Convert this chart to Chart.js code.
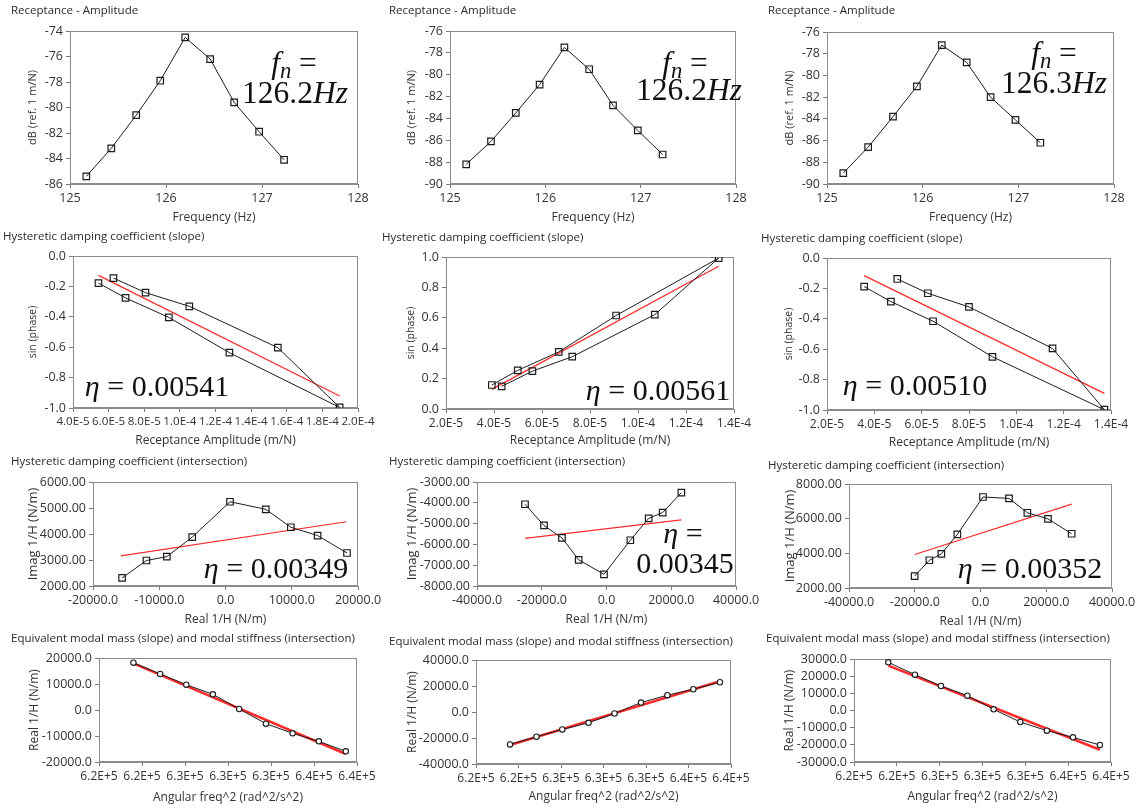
<!DOCTYPE html>
<html>
<head>
<meta charset="utf-8">
<script src="https://cdn.jsdelivr.net/npm/chart.js@4.4.1/dist/chart.umd.min.js"></script>
<style>
  html, body { margin:0; padding:0; background:#fff; }
  body { width:1137px; height:809px; position:relative; overflow:hidden; font-family:'Open Sans','Noto Sans',sans-serif; }
  canvas { position:absolute; }
  .ptitle { position:absolute; font-size:11.5px; color:#2a2a2a; white-space:nowrap; line-height:1.2; transform:translateY(-50%); }
  .ann { position:absolute; font-family:'Liberation Serif','DejaVu Serif',serif; font-size:30px; color:#111; white-space:nowrap; line-height:1; transform:translate(-50%,-50%); }
  .ann.fn { font-size:31.5px; }
  .ann sub { font-size:0.72em; vertical-align:-0.22em; line-height:0; }
</style>
</head>
<body>
<script>
// ---------------- DATA ----------------
// Row 1: Receptance amplitude vs frequency
const freqHz = [125.17, 125.43, 125.69, 125.94, 126.20, 126.46, 126.71, 126.97, 127.23];
const dbA = [-85.4, -83.2, -80.6, -77.9, -74.5, -76.2, -79.6, -81.9, -84.1];
const dbB = [-88.2, -86.1, -83.5, -80.9, -77.5, -79.5, -82.8, -85.1, -87.3];
const dbC = [-89.0, -86.6, -83.8, -81.0, -77.2, -78.8, -82.0, -84.1, -86.2];
const fnLabels = ["126.2", "126.2", "126.3"];

// Row 2: sin(phase) vs receptance amplitude
const recA = [5.43e-5, 6.95e-5, 9.38e-5, 1.278e-4, 1.897e-4, 1.55e-4, 1.053e-4, 8.07e-5, 6.27e-5];
const sinA = [-0.178, -0.276, -0.404, -0.636, -0.996, -0.603, -0.331, -0.241, -0.145];
const fitRecA = [5.43e-5, 1.897e-4];
const fitSinA = [-0.127, -0.921];
const recB = [4.32e-5, 5.60e-5, 7.26e-5, 1.070e-4, 1.336e-4, 9.09e-5, 6.70e-5, 4.99e-5, 3.91e-5];
const sinB = [0.149, 0.249, 0.344, 0.621, 0.993, 0.615, 0.376, 0.254, 0.158];
const fitRecB = [3.91e-5, 1.336e-4];
const fitSinB = [0.129, 0.939];
const recC = [3.57e-5, 4.70e-5, 6.48e-5, 8.99e-5, 1.372e-4, 1.153e-4, 8.00e-5, 6.26e-5, 4.97e-5];
const sinC = [-0.188, -0.287, -0.416, -0.650, -0.998, -0.595, -0.322, -0.232, -0.138];
const fitRecC = [3.57e-5, 1.372e-4];
const fitSinC = [-0.116, -0.891];
const etaSlope = ["0.00541", "0.00561", "0.00510"];

// Row 3: Imag 1/H vs Real 1/H
const reA = [-15610, -11930, -8850, -5020, 680, 6080, 9860, 13900, 18340];
const imA = [2310, 2980, 3130, 3880, 5240, 4950, 4260, 3940, 3270];
const fitReA = [-15810, 18230];
const fitImA = [3160, 4470];
const reB = [-25170, -19310, -13750, -8600, -770, 7360, 13020, 17350, 23120];
const imB = [-4070, -5090, -5690, -6740, -7440, -5800, -4750, -4470, -3510];
const fitReB = [-25170, 23120];
const fitImB = [-5710, -4820];
const reC = [-20030, -15560, -11910, -7050, 760, 8670, 14250, 20530, 27730];
const imC = [2690, 3600, 3970, 5090, 7250, 7170, 6340, 5990, 5130];
const fitReC = [-20030, 27730];
const fitImC = [3930, 6840];
const etaInter = ["0.00349", "0.00345", "0.00352"];

// Row 4: Real 1/H vs angular frequency squared
const omega2 = [620200, 622690, 625120, 627590, 630040, 632530, 635010, 637450, 639960];
const realA = [18200, 13850, 9740, 6030, 390, -5260, -8970, -12050, -15900];
const fitOmA = [620200, 639960];
const fitRealA = [17950, -16920];
const realB = [-24920, -19040, -13420, -8310, -1150, 7280, 12910, 17510, 22880];
const fitOmB = [620200, 639960];
const fitRealB = [-25430, 23640];
const realC = [28060, 20870, 14270, 8640, 680, -6700, -11750, -15630, -20100];
const fitOmC = [620200, 639960];
const fitRealC = [26120, -22820];

// Tick values
const ticksFreq = [125, 126, 127, 128];
const ticksDbA = [-86, -84, -82, -80, -78, -76, -74];
const ticksDbBC = [-90, -88, -86, -84, -82, -80, -78, -76];
const ticksRecA = [4.0e-5, 6.0e-5, 8.0e-5, 1.0e-4, 1.2e-4, 1.4e-4, 1.6e-4, 1.8e-4, 2.0e-4];
const ticksRecBC = [2.0e-5, 4.0e-5, 6.0e-5, 8.0e-5, 1.0e-4, 1.2e-4, 1.4e-4];
const ticksSinNeg = [-1.0, -0.8, -0.6, -0.4, -0.2, 0.0];
const ticksSinPos = [0.0, 0.2, 0.4, 0.6, 0.8, 1.0];
const ticksReA = [-20000, -10000, 0, 10000, 20000];
const ticksReBC = [-40000, -20000, 0, 20000, 40000];
const ticksImA = [2000, 3000, 4000, 5000, 6000];
const ticksImB = [-8000, -7000, -6000, -5000, -4000, -3000];
const ticksImC = [2000, 4000, 6000, 8000];
const ticksOmega = [617000, 621000, 625000, 629000, 633000, 637000, 641000];
const ticksRealA = [-20000, -10000, 0, 10000, 20000];
const ticksRealB = [-40000, -20000, 0, 20000, 40000];
const ticksRealC = [-30000, -20000, -10000, 0, 10000, 20000, 30000];

// Texts
const T_AMP = "Receptance - Amplitude";
const T_SLOPE = "Hysteretic damping coefficient (slope)";
const T_INTER = "Hysteretic damping coefficient (intersection)";
const T_MASS = "Equivalent modal mass (slope) and modal stiffness (intersection)";
const X_FREQ = "Frequency (Hz)", Y_DB = "dB (ref. 1 m/N)";
const X_REC = "Receptance Amplitude (m/N)", Y_SIN = "sin (phase)";
const X_RE = "Real 1/H (N/m)", Y_IM = "Imag 1/H (N/m)";
const X_OM = "Angular freq^2 (rad^2/s^2)", Y_RE = "Real 1/H (N/m)";

// ---------------- FORMATTERS ----------------
const fmtInt = v => String(Math.round(v));
const fmt1 = v => (Math.abs(v) < 1e-9 ? 0 : v).toFixed(1);
const fmt2 = v => (Math.abs(v) < 1e-9 ? 0 : v).toFixed(2);
const fmtExp = v => v.toExponential(1).toUpperCase();

// ---------------- PANEL DEFINITIONS ----------------
const panels = [
  {title:T_AMP, xt:X_FREQ, yt:Y_DB, x:freqHz, y:dbA, xTicks:ticksFreq, yTicks:ticksDbA, xf:fmtInt, yf:fmtInt, marker:'rect'},
  {title:T_AMP, xt:X_FREQ, yt:Y_DB, x:freqHz, y:dbB, xTicks:ticksFreq, yTicks:ticksDbBC, xf:fmtInt, yf:fmtInt, marker:'rect'},
  {title:T_AMP, xt:X_FREQ, yt:Y_DB, x:freqHz, y:dbC, xTicks:ticksFreq, yTicks:ticksDbBC, xf:fmtInt, yf:fmtInt, marker:'rect'},
  {title:T_SLOPE, xt:X_REC, yt:Y_SIN, x:recA, y:sinA, fx:fitRecA, fy:fitSinA, xTicks:ticksRecA, yTicks:ticksSinNeg, xf:fmtExp, yf:fmt1, marker:'rect'},
  {title:T_SLOPE, xt:X_REC, yt:Y_SIN, x:recB, y:sinB, fx:fitRecB, fy:fitSinB, xTicks:ticksRecBC, yTicks:ticksSinPos, xf:fmtExp, yf:fmt1, marker:'rect'},
  {title:T_SLOPE, xt:X_REC, yt:Y_SIN, x:recC, y:sinC, fx:fitRecC, fy:fitSinC, xTicks:ticksRecBC, yTicks:ticksSinNeg, xf:fmtExp, yf:fmt1, marker:'rect'},
  {title:T_INTER, xt:X_RE, yt:Y_IM, x:reA, y:imA, fx:fitReA, fy:fitImA, xTicks:ticksReA, yTicks:ticksImA, xf:fmt1, yf:fmt2, marker:'rect'},
  {title:T_INTER, xt:X_RE, yt:Y_IM, x:reB, y:imB, fx:fitReB, fy:fitImB, xTicks:ticksReBC, yTicks:ticksImB, xf:fmt1, yf:fmt2, marker:'rect'},
  {title:T_INTER, xt:X_RE, yt:Y_IM, x:reC, y:imC, fx:fitReC, fy:fitImC, xTicks:ticksReBC, yTicks:ticksImC, xf:fmt1, yf:fmt2, marker:'rect'},
  {title:T_MASS, xt:X_OM, yt:Y_RE, x:omega2, y:realA, fx:fitOmA, fy:fitRealA, xTicks:ticksOmega, yTicks:ticksRealA, xf:fmtExp, yf:fmt1, marker:'circle'},
  {title:T_MASS, xt:X_OM, yt:Y_RE, x:omega2, y:realB, fx:fitOmB, fy:fitRealB, xTicks:ticksOmega, yTicks:ticksRealB, xf:fmtExp, yf:fmt1, marker:'circle'},
  {title:T_MASS, xt:X_OM, yt:Y_RE, x:omega2, y:realC, fx:fitOmC, fy:fitRealC, xTicks:ticksOmega, yTicks:ticksRealC, xf:fmtExp, yf:fmt1, marker:'circle'}
];

// ---------------- LAYOUT (pixels) ----------------
// plot rect L,T,R,B ; y-title centre x ; x-title centre y ; title pos ; font sizes ; fit line width
const layout = [
  {L:70,  T:31,  R:358,  B:184, yT:33,  xT:218, tx:11,  ty:10,  fsY:11,   fsX:12.5, fitW:1.2},
  {L:450, T:31,  R:736,  B:184, yT:412, xT:218, tx:389, ty:10,  fsY:11,   fsX:12.5, fitW:1.2},
  {L:827, T:32,  R:1114, B:184, yT:790, xT:218, tx:768, ty:10,  fsY:11,   fsX:12.5, fitW:1.2},
  {L:73,  T:256, R:358,  B:408, yT:33,  xT:441, tx:3,   ty:236, fsY:10.5, fsX:11.6, fitW:1.3},
  {L:446, T:257, R:734,  B:409, yT:411, xT:441, tx:382, ty:237, fsY:10.5, fsX:12,   fitW:1.3},
  {L:827, T:258, R:1111, B:410, yT:789, xT:443, tx:761, ty:238, fsY:10.5, fsX:12,   fitW:1.3},
  {L:93,  T:482, R:358,  B:586, yT:33,  xT:620, tx:11,  ty:461, fsY:13,   fsX:12.5, fitW:1.1},
  {L:477, T:482, R:736,  B:586, yT:412, xT:620, tx:389, ty:461, fsY:13,   fsX:12.5, fitW:1.1},
  {L:849, T:484, R:1112, B:588, yT:790, xT:622, tx:768, ty:465, fsY:13,   fsX:12.5, fitW:1.1},
  {L:99,  T:658, R:357,  B:762, yT:34,  xT:798, tx:11,  ty:638, fsY:12,   fsX:12,   fitW:2.6},
  {L:476, T:660, R:731,  B:764, yT:412, xT:797, tx:389, ty:641, fsY:12,   fsX:12,   fitW:2.6},
  {L:854, T:659, R:1111, B:762, yT:789, xT:797, tx:766, ty:638, fsY:12,   fsX:12,   fitW:2.6}
];

// annotation lines: [html, centreX, centreY, extra class]
const annotations = [
  ['<i>f</i><sub><i>n</i></sub> =', 294, 63, 'fn'], [fnLabels[0] + '<i>Hz</i>', 295, 93, 'fn'],
  ['<i>f</i><sub><i>n</i></sub> =', 685, 63, 'fn'], [fnLabels[1] + '<i>Hz</i>', 689, 90, 'fn'],
  ['<i>f</i><sub><i>n</i></sub> =', 1054, 53, 'fn'], [fnLabels[2] + '<i>Hz</i>', 1054, 83, 'fn'],
  ['<i>η</i> = ' + etaSlope[0], 157, 386, ''],
  ['<i>η</i> = ' + etaSlope[1], 658, 390, ''],
  ['<i>η</i> = ' + etaSlope[2], 915, 385, ''],
  ['<i>η</i> = ' + etaInter[0], 276, 568, ''],
  ['<i>η</i> =', 683, 533, ''], [etaInter[1], 685, 563, ''],
  ['<i>η</i> = ' + etaInter[2], 1030, 568, '']
];

// ---------------- RENDER ----------------
Chart.defaults.font.family = "'Open Sans','Noto Sans',sans-serif";
Chart.defaults.color = '#333';

const framePlugin = {
  id: 'frame',
  beforeDatasetsDraw(chart) {
    const a = chart.chartArea, ctx = chart.ctx;
    ctx.save();
    ctx.strokeStyle = '#8c8c8c';
    ctx.lineWidth = 1;
    ctx.strokeRect(Math.round(a.left) + 0.5, Math.round(a.top) + 0.5,
                   Math.round(a.right - a.left) - 1, Math.round(a.bottom - a.top) - 1);
    ctx.restore();
  }
};

panels.forEach((p, i) => {
  const g = layout[i];
  const lhY = g.fsY * 1.2;
  const left = Math.round(g.yT - lhY / 2);
  const YW = g.L - left;
  const PT = 14, PR = 34;
  const XH = Math.round(g.xT - g.B + 7.2);
  const W = YW + (g.R - g.L) + PR;
  const H = PT + (g.B - g.T) + XH;

  const cv = document.createElement('canvas');
  cv.width = W; cv.height = H;
  cv.style.left = left + 'px'; cv.style.top = (g.T - PT) + 'px';
  cv.style.width = W + 'px'; cv.style.height = H + 'px';
  document.body.appendChild(cv);

  const isCircle = p.marker === 'circle';
  const datasets = [{
    data: p.x.map((v, k) => ({x: v, y: p.y[k]})),
    showLine: true, tension: 0,
    borderColor: '#1c1c1c', borderWidth: 1,
    pointStyle: p.marker,
    pointRadius: isCircle ? 2.7 : 4.6,
    pointBorderColor: '#1c1c1c',
    pointBackgroundColor: isCircle ? '#ffffff' : 'rgba(255,255,255,0)',
    pointBorderWidth: isCircle ? 1.1 : 1.2,
    order: 0
  }];
  if (p.fx) {
    datasets.push({
      data: p.fx.map((v, k) => ({x: v, y: p.fy[k]})),
      showLine: true, tension: 0,
      borderColor: '#ff2b2b', borderWidth: g.fitW,
      pointRadius: 0, order: 1
    });
  }

  const axisCommon = (vals, fmt, isX, titleText, titleSize, tickSize) => ({
    type: 'linear',
    min: vals[0], max: vals[vals.length - 1],
    afterBuildTicks: s => { s.ticks = vals.map(v => ({value: v})); },
    afterFit: s => { if (isX) s.height = XH; else s.width = YW; },
    ticks: { autoSkip: false, maxRotation: 0, minRotation: 0, padding: 3, color: '#333',
             font: { size: tickSize }, callback: v => fmt(v) },
    grid: { drawOnChartArea: false, drawTicks: true, tickLength: 4, color: '#7a7a7a' },
    border: { color: '#8c8c8c' },
    title: { display: true, text: titleText, color: '#333', padding: 0, font: { size: titleSize } }
  });

  new Chart(cv, {
    type: 'scatter',
    data: { datasets },
    options: {
      responsive: false, maintainAspectRatio: false, animation: false, devicePixelRatio: 1,
      layout: { padding: { left: 0, top: PT, right: PR, bottom: 0 } },
      plugins: { legend: { display: false }, tooltip: { enabled: false } },
      scales: {
        x: axisCommon(p.xTicks, p.xf, true, p.xt, 12, g.fsX),
        y: axisCommon(p.yTicks, p.yf, false, p.yt, g.fsY, 12.5)
      }
    },
    plugins: [framePlugin]
  });

  const t = document.createElement('div');
  t.className = 'ptitle';
  t.textContent = p.title;
  t.style.left = g.tx + 'px'; t.style.top = g.ty + 'px';
  document.body.appendChild(t);
});

annotations.forEach(([html, cx, cy, cls]) => {
  const d = document.createElement('div');
  d.className = 'ann' + (cls ? ' ' + cls : '');
  d.innerHTML = html;
  d.style.left = cx + 'px'; d.style.top = cy + 'px';
  document.body.appendChild(d);
});
</script>
</body>
</html>
